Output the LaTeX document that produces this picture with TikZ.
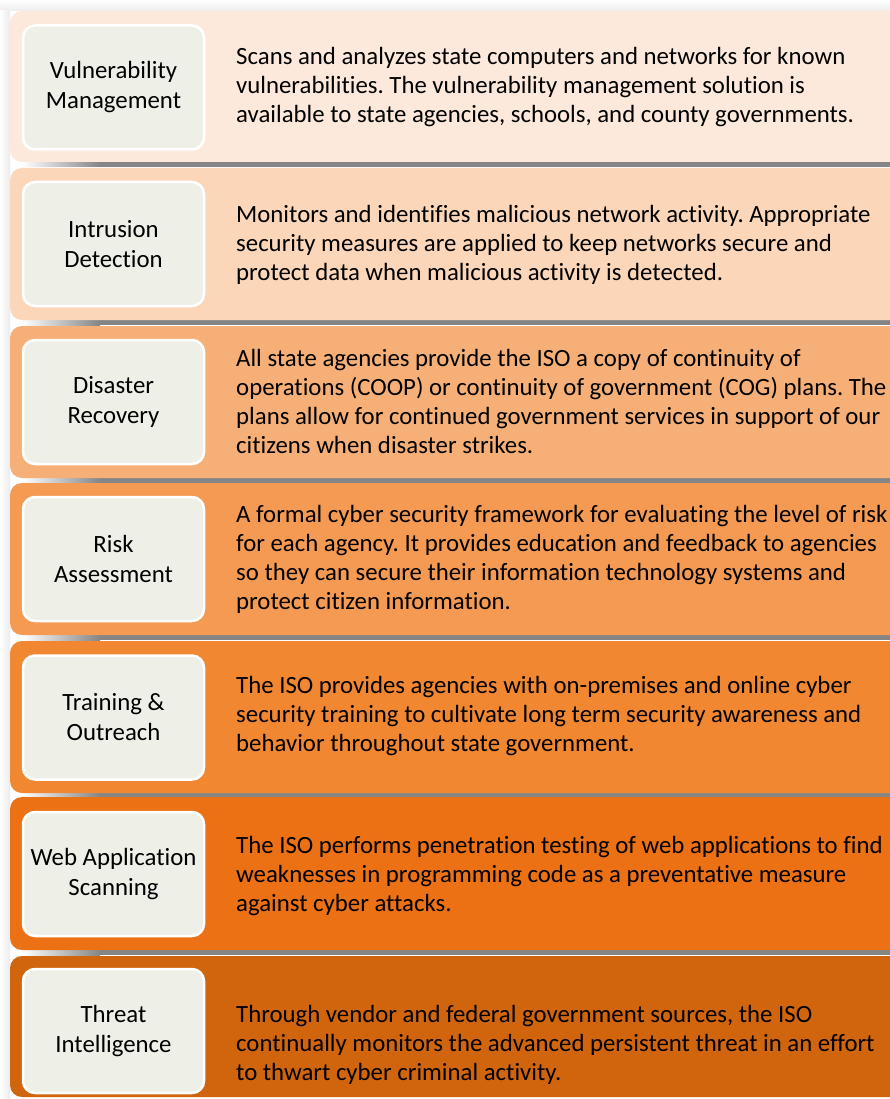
\documentclass[tikz,border=0pt]{standalone}
\usepackage{fontspec}
\setmainfont{Carlito}[Ligatures={NoCommon,NoContextual}]
\frenchspacing
\definecolor{cA}{HTML}{FDE9DB}
\definecolor{cB}{HTML}{FBD6B9}
\definecolor{cC}{HTML}{F6B077}
\definecolor{cD}{HTML}{F49A52}
\definecolor{cE}{HTML}{F18731}
\definecolor{cF}{HTML}{EB7114}
\definecolor{cG}{HTML}{D0650E}
\definecolor{boxfill}{HTML}{EEF0E7}
\definecolor{shadowgray}{HTML}{858585}
\begin{document}
\begin{tikzpicture}[x=1pt,y=-1pt,
  band/.style={rounded corners=12pt},
  inbox/.style={draw=white, line width=2.5pt, fill=boxfill, rounded corners=12pt,
    minimum width=181pt, minimum height=124pt, inner sep=0pt, align=center,
    font=\fontsize{24.8}{30}\selectfont},
  desc/.style={anchor=west, align=left, inner sep=0pt,
    font=\fontsize{24.8}{29}\selectfont}]
\useasboundingbox (0,0) rectangle (890,1099);
\fill[white] (0,0) rectangle (890,1099);
\shade[top color=white, bottom color=gray!14] (0,0) rectangle (890,11);
\shade[left color=white, right color=gray!16] (0,11) rectangle (10,1099);
\begin{scope}
\clip (0,0) rectangle (890,1099);
% shadows under bands
\foreach \b in {162,320,478,635,793,950}{
  \shade[left color=white, right color=shadowgray] (22,\b) rectangle (100,\b+5);
  \fill[shadowgray] (100,\b) rectangle (890,\b+5);
}
% bands
\fill[band, cA] (10,11) rectangle (910,162);
\fill[band, cB] (10,168) rectangle (910,320);
\fill[band, cC] (10,326) rectangle (910,478);
\fill[band, cD] (10,483) rectangle (910,635);
\fill[band, cE] (10,641) rectangle (910,793);
\fill[band, cF] (10,797) rectangle (910,950);
\fill[band, cG] (10,956) rectangle (910,1097);
\end{scope}
% left boxes
\node[inbox] (l1) at (113.5,87.5) {Vulnerability\\Management};
\node[inbox] (l2) at (113.5,244) {Intrusion\\Detection};
\node[inbox] (l3) at (113.5,402) {Disaster\\Recovery};
\node[inbox] (l4) at (113.5,559) {Risk\\Assessment};
\node[inbox] (l5) at (113.5,717.5) {Training \&\\Outreach};
\node[inbox] (l6) at (113.5,874) {Web Application\\Scanning};
\node[inbox] (l7) at (113.5,1031) {Threat\\Intelligence};
% descriptions
\node[desc] (d1) at (236,87) {Scans and analyzes state computers and networks for known\\vulnerabilities. The vulnerability management solution is\\available to state agencies, schools, and county governments.};
\node[desc] (d2) at (236,245) {Monitors and identifies malicious network activity. Appropriate\\security measures are applied to keep networks secure and\\protect data when malicious activity is detected.};
\node[desc] (d3) at (236,401) {All state agencies provide the ISO a copy of continuity of\\operations (COOP) or continuity of government (COG) plans. The\\plans allow for continued government services in support of our\\citizens when disaster strikes.};
\node[desc] (d4) at (236,559) {A formal cyber security framework for evaluating the level of risk\\for each agency. It provides education and feedback to agencies\\so they can secure their information technology systems and\\protect citizen information.};
\node[desc] (d5) at (236,716) {The ISO provides agencies with on-premises and online cyber\\security training to cultivate long term security awareness and\\behavior throughout state government.};
\node[desc] (d6) at (236,876) {The ISO performs penetration testing of web applications to find\\weaknesses in programming code as a preventative measure\\against cyber attacks.};
\node[desc] (d7) at (236,1045) {Through vendor and federal government sources, the ISO\\continually monitors the advanced persistent threat in an effort\\to thwart cyber criminal activity.};
\end{tikzpicture}
\end{document}
